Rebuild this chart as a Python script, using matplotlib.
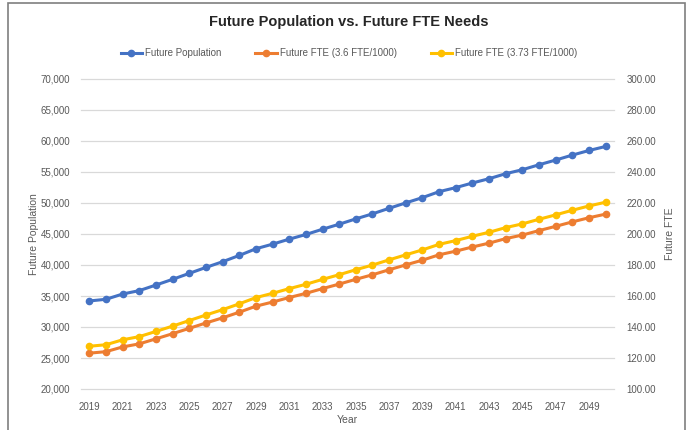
import matplotlib.pyplot as plt
from matplotlib.patches import Rectangle

plt.rcParams['font.family'] = ['Liberation Sans Narrow', 'Liberation Sans', 'DejaVu Sans']

# Data
years = list(range(2019, 2051))
population = [34200, 34470, 35320, 35870, 36770, 37690, 38650, 39610, 40530, 41540,
              42620, 43360, 44170, 44920, 45770, 46580, 47440, 48250, 49150, 50020,
              50870, 51830, 52480, 53230, 53920, 54730, 55370, 56170, 56930, 57730,
              58470, 59120]
fte_36 = [123.12, 124.09, 127.15, 129.13, 132.37, 135.68, 139.14, 142.60, 145.91, 149.54,
          153.43, 156.10, 159.01, 161.71, 164.77, 167.69, 170.78, 173.70, 176.94, 180.07,
          183.13, 186.59, 188.93, 191.63, 194.11, 197.03, 199.33, 202.21, 204.95, 207.83,
          210.49, 212.83]
fte_373 = [127.57, 128.57, 131.74, 133.80, 137.15, 140.58, 144.16, 147.75, 151.18, 154.94,
           158.97, 161.73, 164.75, 167.55, 170.72, 173.74, 176.95, 179.97, 183.33, 186.57,
           189.75, 193.33, 195.75, 198.55, 201.12, 204.14, 206.53, 209.51, 212.35, 215.33,
           218.09, 220.52]

blue = '#4472C4'
orange = '#ED7D31'
yellow = '#FFC000'
grey_text = '#595959'

W, H = 687, 430
fig = plt.figure(figsize=(W / 100, H / 100), dpi=100)

# plot area in pixels: x 81..614, y 79..389
ax = fig.add_axes([81 / W, 1 - 389 / H, (614 - 81) / W, (389 - 79) / H])
ax2 = ax.twinx()

l1, = ax.plot(years, population, color=blue, lw=2.2, marker='o', ms=4.5, label='Future Population')
l2, = ax2.plot(years, fte_36, color=orange, lw=2.2, marker='o', ms=4.5, label='Future FTE (3.6 FTE/1000)')
l3, = ax2.plot(years, fte_373, color=yellow, lw=2.2, marker='o', ms=4.5, label='Future FTE (3.73 FTE/1000)')

ax.set_xlim(2018.5, 2050.5)
ax.set_ylim(20000, 70000)
ax2.set_ylim(100, 300)
ax.set_yticks(range(20000, 70001, 5000))
ax2.set_yticks(range(100, 301, 20))
ax.set_yticklabels([f'{v:,}' for v in range(20000, 70001, 5000)])
ax2.set_yticklabels([f'{v:.2f}' for v in range(100, 301, 20)])
ax.set_xticks(years[::2])

ax.grid(axis='y', color='#D9D9D9', lw=0.9)
for gl in ax.get_ygridlines():
    gl.set_clip_on(False)
ax.set_axisbelow(True)
ax2.patch.set_visible(False)
for a in (ax, ax2):
    for s in a.spines.values():
        s.set_visible(False)
    a.tick_params(length=0, labelsize=7, colors=grey_text)
ax.tick_params(axis='y', pad=8)
ax2.tick_params(axis='y', pad=9)
ax.tick_params(axis='x', pad=9)

ax.set_xlabel('Year', fontsize=7.5, color=grey_text)
ax.xaxis.set_label_coords(0.5, -(415 - 389) / (389 - 79))
ax.set_ylabel('Future Population', fontsize=7.5, color=grey_text)
ax.yaxis.set_label_coords((39 - 81) / (614 - 81), 0.5)
ax2.set_ylabel('Future FTE', fontsize=7.5, color=grey_text)
ax2.yaxis.set_label_coords((665 - 81) / (614 - 81), 0.5)

fig.text(349 / W, 1 - 22 / H, 'Future Population vs. Future FTE Needs', ha='center', va='center',
         fontsize=10.5, fontweight='bold', color='#262626')
fig.legend(handles=[l1, l2, l3], loc='center', bbox_to_anchor=(349 / W, 1 - 53 / H), ncol=3,
           frameon=False, fontsize=7, labelcolor=grey_text, handlelength=2.2, columnspacing=3.5,
           handletextpad=0.3)

# outer chart frame
fig.patches.append(Rectangle((8 / W, -0.05), (685 - 8) / W, 1.05 - 3 / H, transform=fig.transFigure,
                             fill=False, edgecolor='#7F7F7F', lw=1.2))

fig.savefig('out.png', dpi=100)
